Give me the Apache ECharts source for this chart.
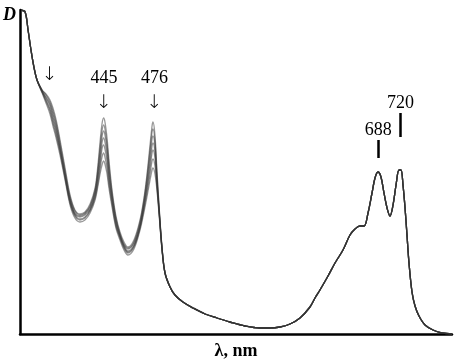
<!DOCTYPE html>
<html><head><meta charset="utf-8">
<script src="https://cdn.jsdelivr.net/npm/echarts@6/dist/echarts.min.js"></script>
<style>html,body{margin:0;padding:0;background:#fff}#c{width:459px;height:360px}</style>
</head><body><div id="c"></div>
<script>
// Wavelengths (nm) – shared start, region where the spectra differ, shared tail
const headWl = [402.1, 404.0, 405.4, 406.8, 408.2, 409.7];
const headD  = [3.24, 3.22, 3.04, 2.84, 2.67, 2.54];

const midWl = [412.2, 414.1, 416.1, 417.6, 419.2, 421.2, 423.8, 426.4, 429.0, 431.7, 434.4, 437.2, 440.0, 441.6, 442.8, 443.9, 444.8, 445.6, 446.8, 447.9, 449.7, 452.0, 454.4, 456.8, 459.2, 462.9, 466.7, 469.2, 471.1, 473.1, 474.4, 475.0, 476.3, 477.6, 479.0, 481.0];
const spec1 = [2.44,2.40,2.34,2.26,2.14,1.94,1.66,1.39,1.24,1.20,1.22,1.30,1.46,1.69,1.92,2.10,2.16,2.12,1.96,1.74,1.44,1.18,1.02,0.92,0.87,0.94,1.14,1.36,1.59,1.89,2.08,2.12,1.99,1.64,1.29,0.86];
const spec2 = [2.44,2.39,2.32,2.23,2.11,1.91,1.63,1.37,1.23,1.19,1.21,1.28,1.44,1.65,1.86,2.03,2.09,2.05,1.90,1.69,1.41,1.16,1.00,0.90,0.86,0.92,1.12,1.34,1.56,1.84,2.02,2.05,1.93,1.60,1.27,0.86];
const spec3 = [2.43,2.37,2.30,2.20,2.08,1.88,1.61,1.35,1.21,1.18,1.20,1.27,1.42,1.62,1.81,1.97,2.03,1.99,1.85,1.64,1.38,1.14,0.99,0.89,0.85,0.91,1.10,1.31,1.52,1.78,1.95,1.98,1.88,1.56,1.25,0.86];
const spec4 = [2.43,2.36,2.28,2.17,2.05,1.86,1.59,1.34,1.20,1.17,1.19,1.25,1.40,1.58,1.75,1.91,1.96,1.92,1.79,1.59,1.35,1.12,0.98,0.88,0.83,0.89,1.08,1.29,1.48,1.72,1.88,1.91,1.82,1.53,1.24,0.85];
const spec5 = [2.42,2.34,2.25,2.14,2.02,1.84,1.57,1.32,1.19,1.15,1.17,1.24,1.38,1.55,1.70,1.85,1.89,1.85,1.73,1.55,1.33,1.10,0.97,0.87,0.82,0.88,1.07,1.27,1.45,1.66,1.81,1.84,1.76,1.50,1.23,0.85];
const spec6 = [2.42,2.33,2.23,2.11,1.99,1.82,1.56,1.31,1.18,1.14,1.16,1.23,1.36,1.51,1.65,1.77,1.81,1.77,1.66,1.50,1.30,1.08,0.96,0.86,0.81,0.87,1.06,1.25,1.41,1.60,1.73,1.75,1.68,1.47,1.22,0.84];
const spec7 = [2.41,2.31,2.20,2.08,1.96,1.79,1.54,1.29,1.16,1.12,1.14,1.21,1.34,1.48,1.60,1.69,1.73,1.70,1.60,1.46,1.27,1.06,0.94,0.84,0.79,0.85,1.04,1.22,1.37,1.54,1.64,1.66,1.60,1.44,1.20,0.84];

const tailWl = [483.0, 486.4, 489.8, 495.4, 502.7, 511.6, 520.8, 531.2, 543.8, 556.9, 566.1, 575.5, 585.2, 595.3, 605.7, 611.1, 616.5, 625.5, 633.5, 642.9, 651.4, 657.6, 663.9, 669.1, 674.3, 679.6, 683.6, 687.7, 691.8, 696.0, 700.3, 704.5, 708.9, 713.3, 717.7, 720.7, 723.7, 726.7, 729.8, 732.9, 737.6, 742.4, 748.8, 758.7, 772.2, 788.1, 806.5];
const tailD  = [0.61,0.47,0.39,0.32,0.26,0.20,0.16,0.12,0.08,0.06,0.06,0.07,0.10,0.16,0.27,0.36,0.44,0.58,0.71,0.84,0.99,1.05,1.08,1.08,1.21,1.41,1.56,1.62,1.57,1.41,1.26,1.18,1.29,1.49,1.64,1.64,1.49,1.27,0.99,0.71,0.42,0.28,0.18,0.09,0.04,0.01,0.00];

// annotations: [wavelength, D, text]
const peakLabels = [[445, 2.56, '445'], [476, 2.56, '476'], [688, 2.04, '688'], [720, 2.31, '720']];
const arrowLabels = [[416, 2.59, '↓'], [445, 2.31, '↓'], [476, 2.31, '↓']];
const peakBars = [[688, 1.76, 1.94], [720, 1.97, 2.21]];

const spectra = [spec1, spec2, spec3, spec4, spec5, spec6, spec7];
const toNu = wl => 1e7 / wl;

const series = spectra.map((mid, i) => {
  const wl = headWl.concat(midWl, tailWl);
  const d = headD.concat(mid, tailD);
  const s = {
    type: 'line', showSymbol: false, smooth: 0.35, silent: true,
    lineStyle: { color: 'rgba(50,50,50,0.5)', width: 1.3 },
    data: wl.map((w, k) => [toNu(w), d[k]])
  };
  if (i === 0) {
    s.markPoint = {
      symbol: 'circle', symbolSize: 0, silent: true,
      label: { show: true, position: 'inside', color: '#000', fontFamily: 'Liberation Serif', fontSize: 18,
        formatter: p => p.name },
      data: peakLabels.map(p => ({ name: p[2], coord: [toNu(p[0]), p[1]] })).concat(
        arrowLabels.map(p => ({ name: p[2], coord: [toNu(p[0]), p[1]],
          label: { fontFamily: 'DejaVu Sans', fontSize: 19, fontWeight: 'lighter' } })))
    };
    s.markLine = {
      symbol: 'none', silent: true, label: { show: false },
      lineStyle: { color: '#000', width: 2.5, type: 'solid' },
      data: peakBars.map(b => [{ coord: [toNu(b[0]), b[1]] }, { coord: [toNu(b[0]), b[2]] }])
    };
  }
  return s;
});

const chart = echarts.init(document.getElementById('c'), null, { renderer: 'canvas' });
chart.setOption({
  animation: false,
  backgroundColor: '#fff',
  grid: { left: 20, right: 7, top: 10, bottom: 26, containLabel: false, outerBoundsMode: 'none' },
  xAxis: {
    type: 'value', min: 12400, max: 24900, inverse: true,
    name: 'λ, nm', nameLocation: 'middle', nameGap: 8,
    nameTextStyle: { fontFamily: 'Liberation Serif', fontWeight: 'bold', fontSize: 18, color: '#000', verticalAlign: 'top' },
    axisLine: { lineStyle: { color: '#000', width: 2.5 } },
    axisTick: { show: false }, axisLabel: { show: false }, splitLine: { show: false }
  },
  yAxis: {
    type: 'value', min: 0, max: 3.24,
    axisLine: { show: true, lineStyle: { color: '#000', width: 2.5 } },
    axisTick: { show: false }, axisLabel: { show: false }, splitLine: { show: false }
  },
  graphic: [{ type: 'text', left: 3, top: 6,
    style: { text: 'D', font: 'italic bold 18px "Liberation Serif"', fill: '#000' } }],
  series: series
});
</script></body></html>
